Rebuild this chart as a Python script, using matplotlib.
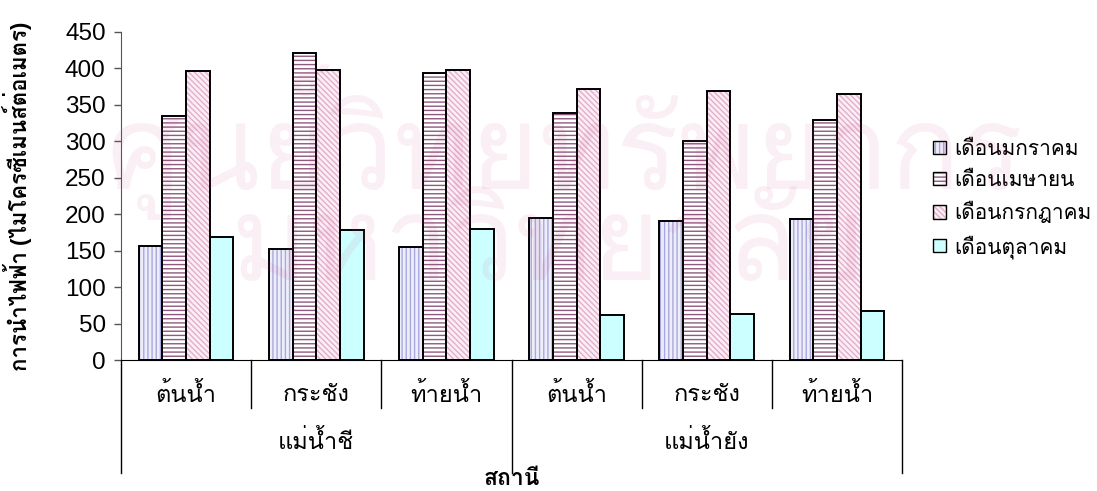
import matplotlib
matplotlib.use('Agg')
import matplotlib.pyplot as plt
import matplotlib.transforms as mtransforms
from matplotlib.patches import Patch
import numpy as np

plt.rcParams['font.family'] = ['Liberation Sans', 'Loma']
plt.rcParams['hatch.linewidth'] = 1.0

stations = ['ต้นน้ำ', 'กระชัง', 'ท้ายน้ำ', 'ต้นน้ำ', 'กระชัง', 'ท้ายน้ำ']
rivers = ['แม่น้ำชี', 'แม่น้ำยัง']
months = ['เดือนมกราคม', 'เดือนเมษายน', 'เดือนกรกฎาคม', 'เดือนตุลาคม']

jan = [157, 152, 155, 195, 190, 193]
apr = [334, 421, 393, 338, 300, 329]
jul = [396, 398, 398, 371, 369, 365]
oct_ = [169, 178, 180, 62, 64, 67]
series = [jan, apr, jul, oct_]

# fill, hatch colour, hatch pattern for each month
faces = ['#EEEEFA', 'white', '#FCEEF5', '#CCFFFF']
hatch_cols = ['#A8A8DC', '#8E5A7E', '#E2AECB', '#CCFFFF']
hatches = ['||||', '----', '\\\\\\\\\\\\', None]

fig = plt.figure(figsize=(10.97, 4.91), dpi=100)
ax = fig.add_axes([0.1103, 0.2662, 0.7120, 0.6696])

x = np.arange(len(stations))
w = 0.182
handles = []
for i, vals in enumerate(series):
    pos = x + (i - 1.5) * w
    ax.bar(pos, vals, w, color=faces[i], edgecolor=hatch_cols[i],
           hatch=hatches[i], linewidth=0, zorder=2)
    ax.bar(pos, vals, w, color='none', edgecolor='black', linewidth=1.4, zorder=3)
    handles.append((Patch(facecolor=faces[i], edgecolor=hatch_cols[i], hatch=hatches[i], linewidth=0),
                    Patch(facecolor='none', edgecolor='black', linewidth=1.0)))

ax.set_xlim(-0.5, len(stations) - 0.5)
ax.set_ylim(0, 450)
ax.set_yticks(range(0, 451, 50))
ax.tick_params(axis='y', length=5, width=1, color='#555555', labelsize=17.5, pad=6)
ax.set_xticks([])
for s in ['top', 'right']:
    ax.spines[s].set_visible(False)
ax.spines['left'].set_color('#555555')
ax.spines['bottom'].set_color('black')

# two-level category axis
trans = mtransforms.blended_transform_factory(ax.transData, ax.transAxes)
for k in range(len(stations) + 1):
    low = -0.343 if k % 3 == 0 else -0.145
    ax.plot([k - 0.5, k - 0.5], [0, low], color='black', lw=1, transform=trans, clip_on=False)
for k, name in enumerate(stations):
    ax.text(k, -0.105, name, transform=trans, ha='center', va='center', fontsize=17)
for g, name in enumerate(rivers):
    ax.text(g * 3 + 1, -0.248, name, transform=trans, ha='center', va='center', fontsize=17)

ax.text(0.5, -0.36, 'สถานี', transform=ax.transAxes, ha='center', va='center',
        fontsize=16.5, fontweight='bold')
fig.text(0.016, 0.60, 'การนำไฟฟ้า (ไมโครซีเมนส์ต่อเมตร)', rotation=90, ha='center', va='center',
         fontsize=16, fontweight='bold')

fig.legend(handles, months, loc='center left', bbox_to_anchor=(0.843, 0.594),
           frameon=False, fontsize=15, handlelength=0.6, handleheight=0.6,
           handletextpad=0.4, labelspacing=0.55, borderaxespad=0)

# library watermark
wm = dict(ha='center', va='center', fontsize=84, color='#C8508C', alpha=0.09,
          family='Loma', zorder=10)
fig.text(0.515, 0.71, 'ศูนย์วิทยทรัพยากร', **wm)
fig.text(0.5, 0.49, 'มหาวิทยาลัย', **wm)

fig.savefig('out.png', dpi=100)
